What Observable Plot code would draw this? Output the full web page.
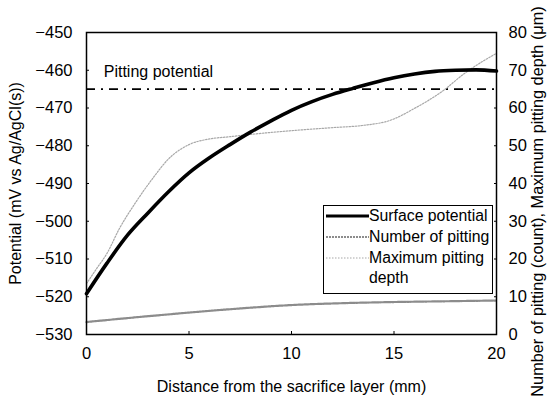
<!DOCTYPE html>
<html>
<head>
<meta charset="utf-8">
<script src="https://cdn.jsdelivr.net/npm/d3@7"></script>
<script src="https://cdn.jsdelivr.net/npm/@observablehq/plot@0.6"></script>
<style>
  html, body { margin: 0; padding: 0; background: #fff; }
  #wrap { position: relative; width: 548px; height: 403px; font-family: "Liberation Sans", Arial, sans-serif; }
  #legend { position: absolute; left: 323px; top: 205px; width: 170px; height: 89px; border: 1px solid #000; background: #fff; box-sizing: border-box; font-size: 15.8px; color: #000; }
  .row { position: absolute; left: 0; display: flex; align-items: center; height: 20px; }
  .row svg { width: 45px; height: 20px; flex: none; }
  .row span { white-space: nowrap; line-height: 20px; }
</style>
</head>
<body>
<div id="wrap"><div id="chart"></div><div id="legend"></div></div>
<script>
// Distance from the sacrifice layer (mm)
const surfaceX = [0, 1, 2, 3, 4, 5, 6, 7, 8, 9, 10, 11, 12, 13, 14, 15, 16, 17, 18, 19, 20];
// Surface potential (mV vs Ag/AgCl(s))
const surfaceV = [-519.2, -511.1, -503.7, -497.8, -492.2, -487.2, -483.2, -479.7, -476.4, -473.4, -470.6, -468.3, -466.4, -464.8, -463.3, -462.0, -461.0, -460.3, -460.0, -459.9, -460.2];

// Number of pitting (count)
const pitCountX = [0, 2.5, 5, 7.5, 10, 12.5, 15, 17.5, 20];
const pitCountV = [3.3, 4.6, 5.8, 6.9, 7.8, 8.3, 8.6, 8.8, 9.0];

// Maximum pitting depth (um)
const depthX = [0, 0.5, 1, 1.6, 2.4, 3.25, 4, 5, 6, 7, 8, 10, 12, 13.5, 14.8, 16.1, 17.4, 18.4, 19.4, 20];
const depthV = [13.5, 17.5, 21.5, 28, 35, 41.5, 46.5, 50.3, 51.8, 52.4, 53, 54, 54.8, 55.4, 56.7, 60.2, 64.6, 69, 72.6, 74.5];

const pittingPotential = -465;
const pittingLabel = "Pitting potential";
const pittingLabelPos = [0.84, -460.3];

const xTicks = [0, 5, 10, 15, 20];
const yTicks = [-530, -520, -510, -500, -490, -480, -470, -460, -450];
const rightOffset = 530; // right axis value = left value + 530 (0 ↔ −530, 80 ↔ −450)

const xTitle = "Distance from the sacrifice layer (mm)";
const yTitle = "Potential (mV vs Ag/AgCl(s))";
const y2Title = "Number of pitting (count), Maximum pitting depth (\u03bcm)";

const surface = surfaceX.map((x, i) => ({x, y: surfaceV[i]}));
const pitCount = pitCountX.map((x, i) => ({x, y: pitCountV[i] - rightOffset}));
const depth = depthX.map((x, i) => ({x, y: depthV[i] - rightOffset}));

const font = "'Liberation Sans', Arial, sans-serif";

const styles = {
  surface: {stroke: "#000", strokeWidth: 3.6, strokeDasharray: null},
  count: {stroke: "#8c8c8c", strokeWidth: 2.2, strokeDasharray: "2,1"},
  depth: {stroke: "#a8a8a8", strokeWidth: 1.2, strokeDasharray: "1.5,1.5"}
};

const chart = Plot.plot({
  width: 548,
  height: 403,
  marginLeft: 86,
  marginRight: 52,
  marginTop: 32,
  marginBottom: 69,
  style: {fontFamily: font, fontSize: "16px", color: "#000", background: "#fff", overflow: "visible"},
  x: {domain: [0, 20]},
  y: {domain: [-530, -450]},
  marks: [
    Plot.axisX({ticks: xTicks, tickSize: -3, tickPadding: 16, tickFormat: d => String(d), fontSize: 16.5,
      label: null}),
    Plot.axisX({ticks: [], label: xTitle, labelAnchor: "center", labelOffset: 57, labelArrow: "none", fontSize: 16}),
    Plot.axisY({anchor: "left", ticks: yTicks, tickSize: -3, tickPadding: 17, fontSize: 16.5,
      tickFormat: d => "\u2212" + Math.abs(d), label: null}),
    Plot.axisY({anchor: "left", ticks: [], label: yTitle, labelAnchor: "center", labelOffset: 77, labelArrow: "none", fontSize: 16}),
    Plot.axisY({anchor: "right", ticks: yTicks, tickSize: -3, tickPadding: 15, fontSize: 16.5,
      tickFormat: d => String(d + rightOffset), label: null}),
    Plot.text([y2Title], {frameAnchor: "right", dx: 41, dy: 18, rotate: -90, textAnchor: "middle", lineAnchor: "middle", text: d => d, fontSize: 16.3}),
    Plot.ruleY([pittingPotential], {stroke: "#000", strokeWidth: 1.6, strokeDasharray: "9,6,2,6"}),
    Plot.text([pittingLabel], {x: () => pittingLabelPos[0], y: () => pittingLabelPos[1], text: d => d, textAnchor: "start", fontSize: 16}),
    Plot.line(depth, {x: "x", y: "y", curve: "monotone-x", ...styles.depth}),
    Plot.line(pitCount, {x: "x", y: "y", curve: "monotone-x", ...styles.count}),
    Plot.line(surface, {x: "x", y: "y", curve: "monotone-x", stroke: styles.surface.stroke, strokeWidth: styles.surface.strokeWidth}),
    Plot.frame({stroke: "#000", strokeWidth: 1.5})
  ]
});
document.getElementById("chart").appendChild(chart);

// Legend
const legend = document.getElementById("legend");
const rows = [
  {name: "Surface potential", st: styles.surface, top: 0},
  {name: "Number of pitting", st: styles.count, top: 21},
  {name: "Maximum pitting", st: styles.depth, top: 42},
  {name: "depth", st: null, top: 62}
];
rows.forEach(r => {
  const div = document.createElement("div");
  div.className = "row";
  div.style.top = r.top + "px";
  const svg = document.createElementNS("http://www.w3.org/2000/svg", "svg");
  if (r.st) {
    const l = document.createElementNS("http://www.w3.org/2000/svg", "line");
    l.setAttribute("x1", 2); l.setAttribute("x2", 45); l.setAttribute("y1", 10); l.setAttribute("y2", 10);
    l.setAttribute("stroke", r.st.stroke);
    l.setAttribute("stroke-width", Math.min(r.st.strokeWidth, 3));
    if (r.st.strokeDasharray) l.setAttribute("stroke-dasharray", r.st.strokeDasharray);
    svg.appendChild(l);
  }
  div.appendChild(svg);
  const s = document.createElement("span");
  s.textContent = r.name;
  div.appendChild(s);
  legend.appendChild(div);
});
</script>
</body>
</html>
